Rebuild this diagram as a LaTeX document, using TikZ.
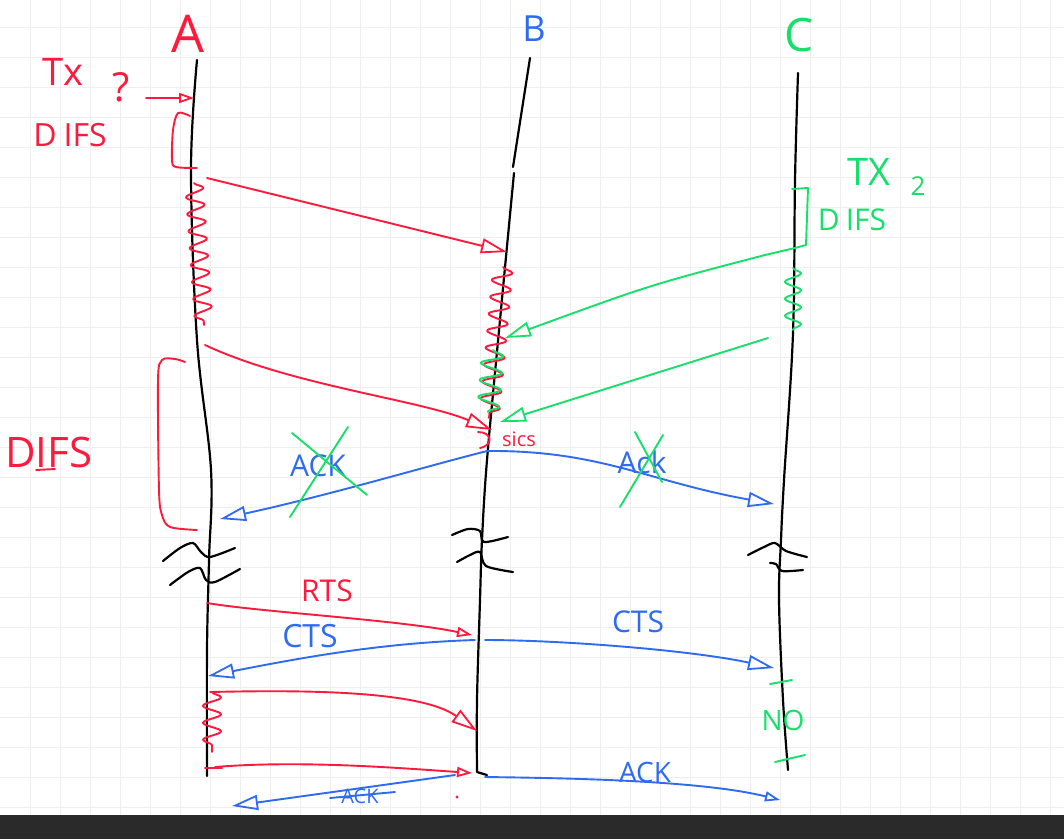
\documentclass[tikz,border=0pt]{standalone}
\usepackage{fontspec}
\setmainfont{Open Sans}
\usetikzlibrary{arrows.meta,decorations.pathmorphing}
\definecolor{hred}{HTML}{FF1A3D}
\definecolor{hblue}{HTML}{2F6BF0}
\definecolor{hgreen}{HTML}{16E06A}
\definecolor{gridc}{HTML}{EEEEEE}
\definecolor{barc}{HTML}{2A2A2A}
\begin{document}
\begin{tikzpicture}[x=1pt,y=-1pt,
  life/.style={line width=2.2pt,line cap=round,line join=round},
  pen/.style={line width=1.9pt,line cap=round,line join=round},
  tip/.style={-{Triangle[open,length=26pt,width=15pt,line width=1.8pt]}},
  smalltip/.style={-{Triangle[open,length=15pt,width=10pt,line width=1.8pt]}},
  wig/.style={decorate,decoration={snake,amplitude=#1,segment length=17pt}},
  wig/.default=8pt,
  hw/.style={inner sep=0pt,font=\fontsize{#1}{#1}\selectfont},
]
\useasboundingbox (0,0) rectangle (1064,839);
\fill[white] (0,0) rectangle (1064,839);
\foreach \x in {30,60,...,1050} \draw[gridc,line width=1pt] (\x,0) -- (\x,815);
\foreach \y in {27,57,...,807} \draw[gridc,line width=1pt] (0,\y) -- (1064,\y);
\fill[barc] (0,815) rectangle (1064,839);

% headers
\node[hw=52,text=hred] (A) at (188,34) {A};
\node[hw=36,text=hblue] (B) at (534,29) {B};
\node[hw=46,text=hgreen] (C) at (799,35) {C};

% lifelines
\draw[life] plot[smooth,tension=0.6] coordinates {(197,60) (191,170) (197,340) (211,470) (209,560) (207,650) (207,776)};
\draw[life] (530,58) -- (513,167);
\draw[life] plot[smooth,tension=0.6] coordinates {(514,173) (500,320) (487,460) (482,540) (480,600) (477,700) (477,772)} -- (487,775);
\draw[life] plot[smooth,tension=0.6] coordinates {(798,73) (795,180) (793,333) (784,480) (781,540) (779,600) (783,700) (788,770)};

% break marks
\draw[life] plot[smooth] coordinates {(163,561) (180,548) (193,543) (201,552) (210,557) (235,548)};
\draw[life] plot[smooth] coordinates {(170,585) (188,572) (200,568) (206,580) (215,582) (240,569)};
\draw[life] plot[smooth] coordinates {(452,535) (468,529) (480,531) (484,542) (508,537)};
\draw[life] plot[smooth] coordinates {(457,562) (470,555) (480,552) (486,566) (513,572)};
\draw[life] plot[smooth] coordinates {(748,555) (764,547) (775,543) (786,551) (807,557)};
\draw[life] plot[smooth] coordinates {(770,563) (776,564) (782,571) (803,570)};

% ---- red, top
\node[hw=38,text=hred] (tx) at (63,72) {Tx};
\node[hw=40,text=hred] (q) at (121,87) {?};
\coordinate (txs) at (146,98);
\coordinate (txe) at (194,98);
\draw[pen,hred,smalltip] (txs) -- (txe);
\node[hw=32,text=hred] (difs1) at (70,135) {D\hspace{7pt}IFS};
\draw[pen,hred] plot[smooth] coordinates {(190,116) (178,113) (173,130) (172,160) (176,167) (197,168)};
\draw[pen,hred,wig=9pt] (194,183) -- (204,325);
\coordinate (r1s) at (207,178);
\coordinate (r1e) at (507,252);
\draw[pen,hred,tip] (r1s) -- (r1e);
\coordinate (r2s) at (205,345);
\coordinate (r2e) at (492,430);
\draw[pen,hred,tip] (r2s) .. controls (290,385) and (420,400) .. (r2e);
\draw[pen,hred,wig=10pt] (503,267) -- (489,418);
\draw[pen,hred] (478,432) .. controls (492,432) and (494,445) .. (480,448);
\node[hw=20,text=hred] (sics) at (519,439) {sics};
\node[hw=42,text=hred,anchor=west] (difs2) at (5,452) {DIFS};
\draw[pen,hred] (36,470) -- (55,469);
\draw[pen,hred] plot[smooth] coordinates {(185,362) (175,359) (162,360) (158,380) (159,490) (162,515) (170,527) (197,530)};

% ---- green, top
\node[hw=38,text=hgreen] (tx2) at (869,172) {TX};
\node[hw=26,text=hgreen] (two) at (918,186) {2};
\node[hw=30,text=hgreen] (difs3) at (852,220) {D\hspace{6pt}IFS};
\coordinate (g1s) at (765,255);
\coordinate (g1e) at (505,338);
\draw[pen,hgreen] (792,189) -- (808,188) -- (806,245) -- (795,248) -- (g1s);
\draw[pen,hgreen,tip] (g1s) .. controls (650,285) .. (g1e);
\draw[pen,hgreen,wig=8pt] (793,268) -- (793,330);
\draw[pen,hgreen,wig=11pt] (493,350) -- (488,412);
\coordinate (g2s) at (768,338);
\coordinate (g2e) at (500,422);
\draw[pen,hgreen,tip] (g2s) -- (g2e);

% ---- blue ACKs (crossed)
\coordinate (bk) at (487,451);
\coordinate (ak1e) at (220,519);
\coordinate (ak2e) at (774,504);
\draw[pen,hblue,tip] (bk) .. controls (420,468) and (330,495) .. (ak1e);
\draw[pen,hblue,tip] (bk) .. controls (600,450) and (650,482) .. (ak2e);
\node[hw=30,text=hblue] (ack1) at (318,466) {ACK};
\draw[pen,hgreen] (292,433) -- (367,495);
\draw[pen,hgreen] (348,427) -- (290,517);
\node[hw=30,text=hblue] (ack2) at (642,462) {Ack};
\draw[pen,hgreen] (635,432) -- (662,482);
\draw[pen,hgreen] (663,435) -- (620,507);

% ---- RTS / CTS
\node[hw=30,text=hred] (rts) at (327,591) {RTS};
\coordinate (rtss) at (207,603);
\coordinate (rtse) at (472,635);
\draw[pen,hred,smalltip] (rtss) .. controls (260,612) and (400,620) .. (rtse);
\coordinate (ctss) at (475,640);
\coordinate (ctse) at (208,676);
\draw[pen,hblue,tip] (ctss) .. controls (380,643) and (300,658) .. (ctse);
\node[hw=32,text=hblue] (cts1) at (310,636) {CTS};
\coordinate (cts2s) at (485,640);
\coordinate (cts2e) at (774,668);
\draw[pen,hblue,tip] (cts2s) .. controls (560,640) and (690,650) .. (cts2e);
\node[hw=30,text=hblue] (cts2) at (638,622) {CTS};

% ---- data
\draw[pen,hred,wig=9pt] (212,692) -- (212,752);
\draw[pen,hred] (205,768) -- (222,768);
\coordinate (d1s) at (210,692);
\coordinate (d1e) at (477,731);
\draw[pen,hred,tip] (d1s) .. controls (300,690) and (420,690) .. (d1e);
\coordinate (d2s) at (215,767);
\coordinate (d2e) at (472,773);
\draw[pen,hred,smalltip] (d2s) .. controls (300,760) and (400,768) .. (d2e);
\coordinate (a3s) at (455,775);
\coordinate (a3e) at (232,806);
\draw[pen,hblue,tip] (a3s) -- (a3e);
\node[hw=20,text=hblue] (ack3) at (360,796) {ACK};
\draw[pen,hblue] (330,798) -- (395,792);
\fill[hred] (457,797) circle (1.6);
\coordinate (a4s) at (485,777);
\coordinate (a4e) at (780,800);
\draw[pen,hblue,smalltip] (a4s) .. controls (560,778) and (700,780) .. (a4e);
\node[hw=28,text=hblue] (ack4) at (645,772) {ACK};
\node[hw=28,text=hgreen] (no) at (783,720) {NO};
\draw[pen,hgreen] (770,684) -- (792,680);
\draw[pen,hgreen] (775,762) -- (805,755);
\end{tikzpicture}
\end{document}
